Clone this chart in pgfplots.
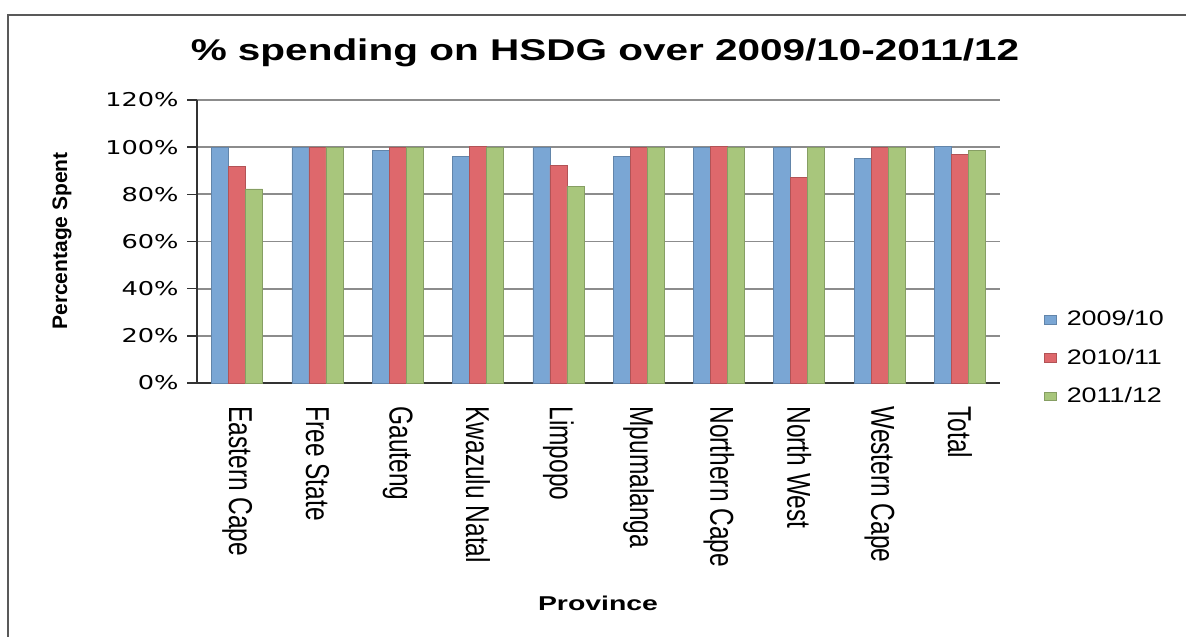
\documentclass[border=0pt]{standalone}
\usepackage{pgfplots}
\pgfplotsset{compat=1.18}
\usepackage{graphicx}
\usepackage{fontspec}
\setmainfont{Liberation Sans}
\newfontfamily\titlefont[FakeStretch=1.35]{Liberation Sans}
\newfontfamily\tickfont[FakeStretch=1.35]{DejaVu Sans}
\newfontfamily\legfont[FakeStretch=1.28]{Liberation Sans}
\newfontfamily\xlabfont[FakeStretch=1.42]{Liberation Sans}
\definecolor{cblue}{RGB}{122,166,212}
\definecolor{cred}{RGB}{222,104,108}
\definecolor{cgreen}{RGB}{168,198,124}
\definecolor{gridc}{RGB}{140,140,140}
\newcommand{\vs}[1]{\scalebox{1}[1.35]{#1}}

\pgfplotstableread{
x a b c
0 100 92 82.3
1 100 100 100
2 98.6 100 100
3 96 100.3 100
4 100 92.3 83.3
5 96.1 100 100
6 100 100.2 100
7 100 87.1 100
8 95.4 100 100
9 100.2 96.9 98.6
}\datatable

\begin{document}
\begin{tikzpicture}
\useasboundingbox (0,0) rectangle (593pt,-318pt);
\draw[line width=1pt, black!65] (4pt,-330pt) -- (4pt,-7.5pt) -- (600pt,-7.5pt);
\begin{axis}[
  at={(98.5pt,-191.5pt)}, anchor=south west,
  scale only axis, width=401.5pt, height=141.5pt,
  ybar=0pt, bar width=8.5pt,
  xmin=-0.5, xmax=9.5, ymin=0, ymax=120,
  axis x line*=bottom, axis y line*=left,
  axis line style={black!80, line width=0.8pt},
  xtick=data,
  xticklabels={\vs{Eastern Cape},\vs{Free State},\vs{Gauteng},\vs{Kwazulu Natal},\vs{Limpopo},\vs{Mpumalanga},\vs{Northern Cape},\vs{North West},\vs{Western Cape},\vs{Total}},
  x tick style={draw=none},
  xticklabel style={rotate=-90, anchor=west, inner sep=0pt, font=\fontsize{12.25}{14}\selectfont},
  xticklabel shift=6.5pt,
  ytick={0,20,40,60,80,100,120},
  yticklabels={0\%,20\%,40\%,60\%,80\%,100\%,120\%},
  y tick style={black!80, line width=0.8pt},
  tick align=outside, major tick length=5pt,
  yticklabel style={font=\tickfont\fontsize{9.5}{11}\selectfont, inner sep=0pt, xshift=-4pt},
  ymajorgrids, grid style={gridc, line width=0.9pt},
  title={\titlefont\bfseries\fontsize{15}{18}\selectfont \% spending on HSDG over 2009/10-2011/12},
  title style={at={(axis description cs:0.508,1.124)}, anchor=center},
  xlabel={\xlabfont\bfseries\fontsize{10}{12}\selectfont Province},
  xlabel style={at={(axis description cs:0.4994,-0.777)}, anchor=center},
  ylabel={\bfseries\fontsize{10.5}{12}\selectfont Percentage Spent},
  ylabel style={at={(axis description cs:-0.168,0.502)}, anchor=center, rotate=0},
  legend style={at={(axis description cs:1.047,0.088)}, anchor=west, draw=none, fill=none,
    font=\legfont\fontsize{10.5}{12}\selectfont, row sep=6pt},
  legend cell align=left,
  legend image code/.code={\fill[#1] (0pt,-2.2pt) rectangle (6pt,2.2pt); \path (9pt,0pt);},
]
\addplot[fill=cblue, draw=cblue!80!black, line width=0.3pt] table[x=x,y=a]{\datatable};
\addplot[fill=cred, draw=cred!80!black, line width=0.3pt] table[x=x,y=b]{\datatable};
\addplot[fill=cgreen, draw=cgreen!80!black, line width=0.3pt] table[x=x,y=c]{\datatable};
\legend{2009/10,2010/11,2011/12}
\end{axis}
\end{tikzpicture}
\end{document}
